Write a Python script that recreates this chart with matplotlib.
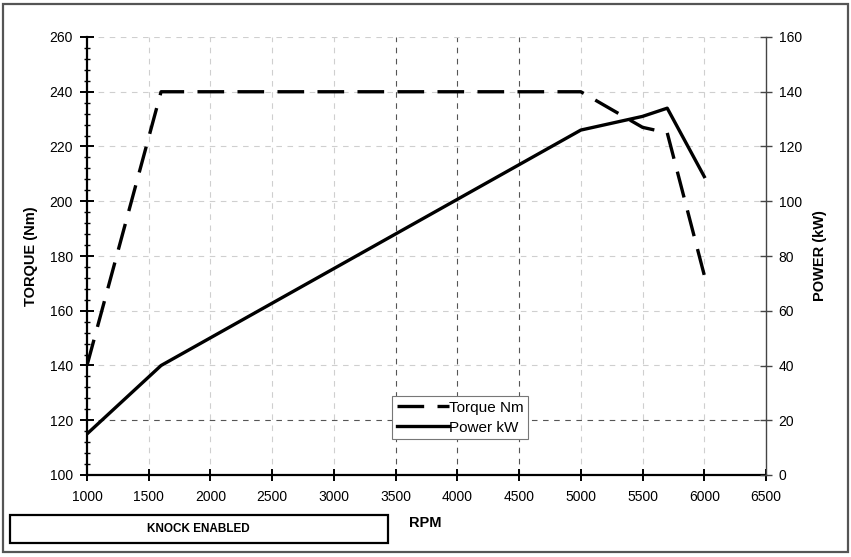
import matplotlib.pyplot as plt
from matplotlib.patches import Rectangle
from matplotlib.ticker import MultipleLocator

plt.rcParams['font.family'] = ['Liberation Sans', 'DejaVu Sans']
plt.rcParams['font.size'] = 10

# engine curve
rpm = [1000, 1600, 5000, 5500, 5700, 6000]
torque_nm = [140, 240, 240, 227, 225, 173]
power_kw = [15, 40, 126, 131, 134, 109]

rpm_ticks = list(range(1000, 7000, 500))
torque_ticks = list(range(100, 280, 20))
power_ticks = list(range(0, 180, 20))
dark_rpm_grid = [3500, 4000, 4500]
dark_torque_grid = [120]

W, H = 851, 557
fig = plt.figure(figsize=(W / 100, H / 100), dpi=100)
ax = fig.add_axes([87 / W, 1 - 475 / H, (766 - 87) / W, (475 - 37) / H])
ax2 = ax.twinx()

grid_light = dict(color='#cfcfcf', lw=0.8, dashes=(5, 5), zorder=0)
grid_dark = dict(color='#555555', lw=0.8, dashes=(5, 5), zorder=0)
for x in rpm_ticks[1:-1]:
    ax.axvline(x, **(grid_dark if x in dark_rpm_grid else grid_light))
for y in torque_ticks[1:]:
    ax.axhline(y, **(grid_dark if y in dark_torque_grid else grid_light))

l1, = ax.plot(rpm, torque_nm, color='black', lw=2.4, dashes=(8, 4),
              label='Torque Nm', zorder=3)
l2, = ax2.plot(rpm, power_kw, color='black', lw=2.4, label='Power kW', zorder=3)

ax.set_xlim(1000, 6500)
ax.set_ylim(100, 260)
ax2.set_ylim(0, 160)
ax.set_xticks(rpm_ticks)
ax.set_yticks(torque_ticks)
ax.yaxis.set_minor_locator(MultipleLocator(4))
ax2.set_yticks(power_ticks)

ax.spines['top'].set_visible(False)
ax2.spines['top'].set_visible(False)
ax.spines['right'].set_visible(False)
ax2.spines['left'].set_visible(False)
ax2.spines['bottom'].set_visible(False)
ax.spines['left'].set_linewidth(1.6)
ax.spines['bottom'].set_linewidth(1.6)
ax2.spines['right'].set_linewidth(1.0)
ax2.spines['right'].set_color('#444444')

ax.tick_params(axis='x', direction='inout', length=9, width=1.4, pad=6)
ax.tick_params(axis='y', which='major', direction='inout', length=10, width=1.4, pad=5)
ax.tick_params(axis='y', which='minor', direction='inout', length=5, width=1.0)
ax2.tick_params(axis='y', direction='inout', length=8, width=1.0, color='#444444', pad=5)

ax.set_ylabel('TORQUE (Nm)', fontweight='bold', fontsize=10.5, labelpad=8)
ax2.set_ylabel('POWER (kW)', fontweight='bold', fontsize=10.5, labelpad=8)
fig.text(425 / W, 1 - 523 / H, 'RPM', fontweight='bold', fontsize=10.5,
         ha='center', va='center')

leg = ax2.legend(handles=[l1, l2], loc='upper left', fontsize=11,
                 bbox_to_anchor=(392 / W, 1 - 396 / H), bbox_transform=fig.transFigure,
                 fancybox=False, framealpha=1, edgecolor='#777777',
                 handlelength=3.4, handletextpad=0.0, borderpad=0.3,
                 labelspacing=0.4, borderaxespad=0)
leg.get_frame().set_linewidth(0.8)

# knock box and outer frame
fig.patches.append(Rectangle((10 / W, 1 - 543 / H), 378 / W, 28 / H,
                             transform=fig.transFigure, fill=False,
                             edgecolor='black', lw=1.6))
fig.text(198 / W, 1 - 529 / H, 'KNOCK ENABLED', fontweight='bold', fontsize=8.5,
         ha='center', va='center')
fig.patches.append(Rectangle((3 / W, 1 - 552 / H), 845 / W, 548 / H,
                             transform=fig.transFigure, fill=False,
                             edgecolor='#555555', lw=1.6))

fig.savefig('out.png', dpi=100)
